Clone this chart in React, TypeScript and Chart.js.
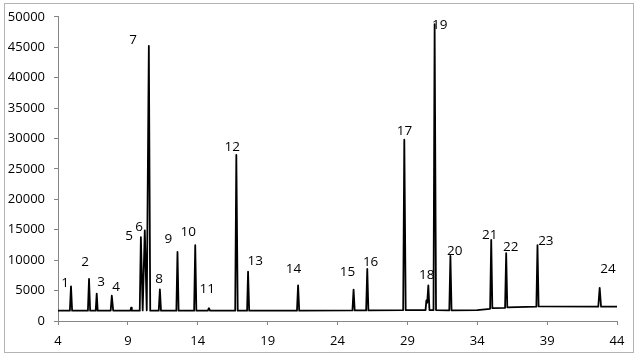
import React, { useEffect, useRef } from "react";
import { Chart, registerables } from "chart.js";

Chart.register(...registerables);

// Retention time (min) of every trace point
const traceX = [
  4.0,
  4.85, 4.93, 5.01,
  6.14, 6.22, 6.30,
  6.70, 6.77, 6.84,
  7.77, 7.85, 7.95,
  9.18, 9.23, 9.28,
  9.85, 9.93, 10.06, 10.21, 10.35, 10.50, 10.60,
  11.21, 11.29, 11.37,
  12.47, 12.55, 12.63,
  13.74, 13.82, 13.90,
  14.72, 14.80, 14.88,
  16.68, 16.76, 16.86,
  17.53, 17.60, 17.68,
  21.10, 21.18, 21.26,
  25.07, 25.15, 25.23,
  26.05, 26.13, 26.21,
  28.70, 28.78, 28.88,
  30.30, 30.36, 30.42, 30.50, 30.58,
  30.87, 30.95, 31.05,
  32.00, 32.08, 32.16,
  34.00,
  34.92, 35.00, 35.08,
  35.99, 36.07, 36.15,
  38.23, 38.31, 38.39,
  42.66, 42.76, 42.86,
  44.0,
];

// Detector signal at each trace point
const traceY = [
  1700,
  1700, 5700, 1700,
  1700, 6900, 1700,
  1700, 4500, 1700,
  1700, 4150, 1700,
  1700, 2200, 1700,
  1700, 13800, 1750, 14900, 1750, 45200, 1700,
  1700, 5200, 1700,
  1700, 11350, 1700,
  1700, 12450, 1700,
  1700, 2100, 1700,
  1700, 27300, 1700,
  1700, 8100, 1700,
  1700, 5850, 1700,
  1750, 5150, 1750,
  1750, 8550, 1750,
  1800, 29800, 1800,
  1800, 3400, 3000, 5850, 1800,
  1800, 48800, 1800,
  1750, 10700, 1750,
  1800,
  2000, 13350, 2100,
  2150, 11150, 2250,
  2350, 12450, 2400,
  2350, 5450, 2350,
  2350,
];

// Peak labels and where they sit (data coordinates)
const peakNames = ["1", "2", "3", "4", "5", "6", "7", "8", "9", "10", "11", "12",
  "13", "14", "15", "16", "17", "18", "19", "20", "21", "22", "23", "24"];
const peakLabelX = [4.5, 5.94, 7.08, 8.16, 9.09, 9.81, 9.38, 11.24, 11.89, 13.32, 14.68, 16.47,
  18.12, 20.85, 24.72, 26.37, 28.8, 30.38, 31.31, 32.39, 34.9, 36.4, 38.91, 43.35];
const peakLabelY = [6170, 9740, 6330, 5520, 13960, 15420, 46100, 6820, 13470, 14610, 5190, 28570,
  9900, 8440, 7950, 9740, 31170, 7470, 48700, 11530, 14120, 12180, 13150, 8600];

const xTicks = [4, 9, 14, 19, 24, 29, 34, 39, 44];
const yTicks = [0, 5000, 10000, 15000, 20000, 25000, 30000, 35000, 40000, 45000, 50000];

const FONT = "'Open Sans', 'Liberation Sans', sans-serif";

export default function App() {
  const ref = useRef<HTMLCanvasElement | null>(null);

  useEffect(() => {
    const canvas = ref.current;
    if (!canvas) return;

    const borderPlugin = {
      id: "outerBorder",
      beforeDraw(chart: any) {
        const ctx = chart.ctx;
        ctx.save();
        ctx.fillStyle = "#ffffff";
        ctx.fillRect(0, 0, chart.width, chart.height);
        ctx.strokeStyle = "#b3b3b3";
        ctx.lineWidth = 1;
        ctx.strokeRect(4.5, 3.5, 629, 349);
        ctx.restore();
      },
    };

    const labelPlugin = {
      id: "peakLabels",
      afterDatasetsDraw(chart: any) {
        const ctx = chart.ctx;
        const xs = chart.scales.x;
        const ys = chart.scales.y;
        ctx.save();
        ctx.fillStyle = "#000000";
        ctx.font = `13.5px ${FONT}`;
        ctx.textAlign = "center";
        ctx.textBaseline = "middle";
        peakNames.forEach((name, i) => {
          ctx.fillText(name, xs.getPixelForValue(peakLabelX[i]), ys.getPixelForValue(peakLabelY[i]));
        });
        ctx.restore();
      },
    };

    const chart = new Chart(canvas, {
      type: "line",
      data: {
        datasets: [
          {
            data: traceX.map((x, i) => ({ x, y: traceY[i] })),
            borderColor: "#000000",
            borderWidth: 1.8,
            borderJoinStyle: "round",
            borderCapStyle: "round",
            pointRadius: 0,
            tension: 0,
            fill: false,
          },
        ],
      },
      options: {
        responsive: false,
        maintainAspectRatio: false,
        animation: false,
        devicePixelRatio: 1,
        layout: { padding: { left: 0, top: 13, right: 19, bottom: 0 } },
        plugins: {
          legend: { display: false },
          tooltip: { enabled: false },
          title: { display: false },
        },
        scales: {
          x: {
            type: "linear",
            min: 4,
            max: 44,
            afterBuildTicks: (scale: any) => {
              scale.ticks = xTicks.map((v) => ({ value: v }));
            },
            afterFit: (scale: any) => {
              scale.height = 36;
            },
            grid: {
              display: true,
              drawOnChartArea: false,
              drawTicks: true,
              tickLength: 4,
              color: "#868686",
            },
            border: { display: true, color: "#868686", width: 1 },
            ticks: {
              autoSkip: false,
              maxRotation: 0,
              padding: 8,
              color: "#000000",
              font: { family: FONT, size: 13 },
              callback: (v: any) => String(v),
            },
          },
          y: {
            type: "linear",
            min: 0,
            max: 50000,
            afterBuildTicks: (scale: any) => {
              scale.ticks = yTicks.map((v) => ({ value: v }));
            },
            afterFit: (scale: any) => {
              scale.width = 58;
            },
            grid: {
              display: true,
              drawOnChartArea: false,
              drawTicks: true,
              tickLength: 4,
              color: "#868686",
            },
            border: { display: true, color: "#868686", width: 1 },
            ticks: {
              padding: 9,
              color: "#000000",
              font: { family: FONT, size: 13 },
              callback: (v: any) => String(v),
            },
          },
        },
      },
      plugins: [borderPlugin, labelPlugin],
    } as any);

    return () => chart.destroy();
  }, []);

  return (
    <div style={{ position: "absolute", left: 0, top: 0, width: 636, height: 357 }}>
      <canvas ref={ref} width={636} height={357} style={{ display: "block", width: 636, height: 357 }} />
    </div>
  );
}
